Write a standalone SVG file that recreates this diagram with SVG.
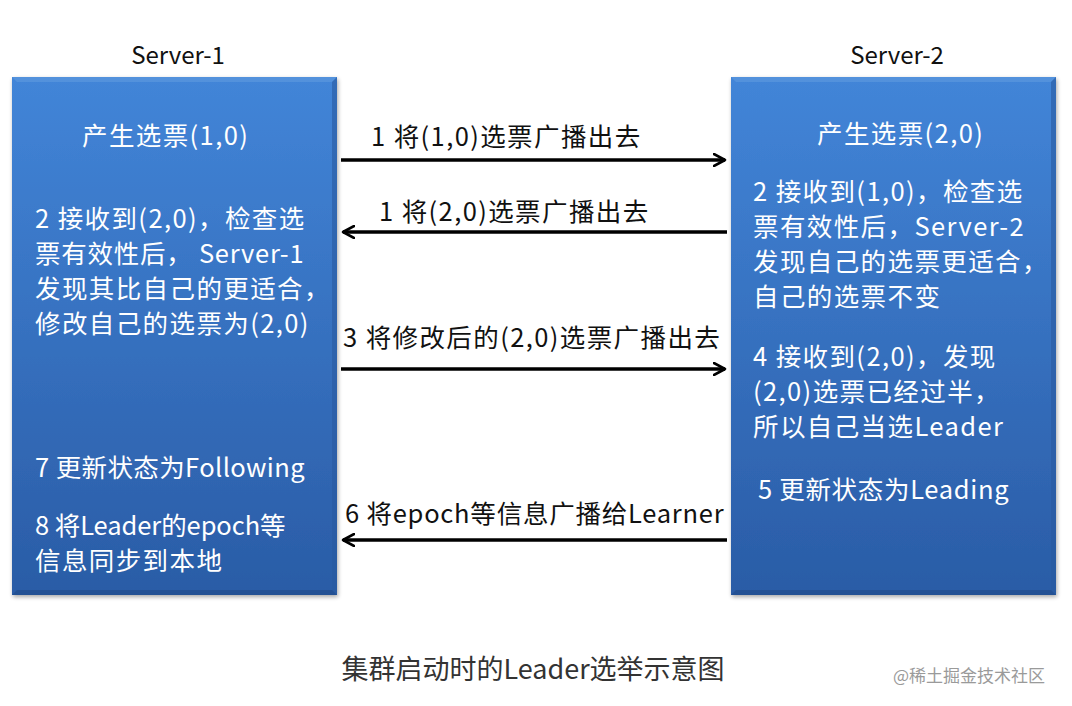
<svg xmlns="http://www.w3.org/2000/svg" width="1072" height="706" viewBox="0 0 1072 706">
<defs>
<linearGradient id="gBox" x1="0" y1="0" x2="0" y2="1">
<stop offset="0" stop-color="#4285d8"/>
<stop offset="1" stop-color="#2a5ca6"/>
</linearGradient>
<marker id="ah" viewBox="0 0 14 14" refX="12" refY="7" markerWidth="14" markerHeight="14" markerUnits="userSpaceOnUse" orient="auto">
<path d="M1,1 L12,7 L1,13" fill="none" stroke="#000" stroke-width="2.6" stroke-linecap="round" stroke-linejoin="round"/>
</marker>
<filter id="sh" x="-5%" y="-5%" width="110%" height="110%">
<feGaussianBlur in="SourceAlpha" stdDeviation="2"/>
<feOffset dx="1" dy="2"/>
<feComponentTransfer><feFuncA type="linear" slope="0.35"/></feComponentTransfer>
<feMerge><feMergeNode/><feMergeNode in="SourceGraphic"/></feMerge>
</filter>
</defs>
<style>
.t{font-family:"Noto Sans CJK SC","Noto Sans",sans-serif;font-size:25.5px;letter-spacing:1.4px;fill:#ffffff}
.a{font-family:"Noto Sans CJK SC","Noto Sans",sans-serif;font-size:25.5px;letter-spacing:1.4px;fill:#111111}
.h{font-family:"Noto Sans CJK SC","Noto Sans",sans-serif;font-size:24px;fill:#111111}
.c{font-family:"Noto Sans CJK SC","Noto Sans",sans-serif;font-size:27px;fill:#333333}
.w{font-family:"Noto Sans CJK SC","Noto Sans",sans-serif;font-size:17px;fill:#9a9a9a}
.ln{stroke:#000;stroke-width:3.5;fill:none}
</style>
<rect width="1072" height="706" fill="#ffffff"/>

<g id="server1">
<text class="h" x="178" y="64" text-anchor="middle">Server-1</text>
<rect x="12" y="77" width="325" height="518" fill="url(#gBox)" filter="url(#sh)"/>
<path d="M12,77 L337,77 L332,82 L17,82 Z" fill="#5b97de" opacity="0.7"/>
<path d="M337,77 L337,595 L332,590 L332,82 Z" fill="#2a5aa0" opacity="0.6"/>
<path d="M12,595 L337,595 L332,590 L17,590 Z" fill="#1f4a88" opacity="0.6"/>
<text class="t" x="82" y="145">产生选票(1,0)</text>
<text class="t" x="35" y="228">2 接收到(2,0)，检查选</text>
<text class="t" x="35" y="263" textLength="270" lengthAdjust="spacing">票有效性后， Server-1</text>
<text class="t" x="35" y="298">发现其比自己的更适合，</text>
<text class="t" x="35" y="333">修改自己的选票为(2,0)</text>
<text class="t" x="35" y="477" textLength="271" lengthAdjust="spacing">7 更新状态为Following</text>
<text class="t" x="35" y="535" textLength="252" lengthAdjust="spacing">8 将Leader的epoch等</text>
<text class="t" x="35" y="570">信息同步到本地</text>
</g>

<g id="server2">
<text class="h" x="897" y="64" text-anchor="middle">Server-2</text>
<rect x="731" y="77" width="325" height="518" fill="url(#gBox)" filter="url(#sh)"/>
<path d="M731,77 L1056,77 L1051,82 L736,82 Z" fill="#5b97de" opacity="0.7"/>
<path d="M1056,77 L1056,595 L1051,590 L1051,82 Z" fill="#2a5aa0" opacity="0.6"/>
<path d="M731,595 L1056,595 L1051,590 L736,590 Z" fill="#1f4a88" opacity="0.6"/>
<text class="t" x="817" y="143">产生选票(2,0)</text>
<text class="t" x="753" y="201">2 接收到(1,0)，检查选</text>
<text class="t" x="753" y="236">票有效性后，Server-2</text>
<text class="t" x="753" y="271">发现自己的选票更适合，</text>
<text class="t" x="753" y="306">自己的选票不变</text>
<text class="t" x="753" y="366">4 接收到(2,0)，发现</text>
<text class="t" x="753" y="401">(2,0)选票已经过半，</text>
<text class="t" x="753" y="436">所以自己当选Leader</text>
<text class="t" x="758" y="499" textLength="252" lengthAdjust="spacing">5 更新状态为Leading</text>
</g>

<g id="connectors">
<line class="ln" x1="341" y1="160" x2="725" y2="160" marker-end="url(#ah)"/>
<line class="ln" x1="727" y1="232" x2="343" y2="232" marker-end="url(#ah)"/>
<line class="ln" x1="341" y1="369" x2="725" y2="369" marker-end="url(#ah)"/>
<line class="ln" x1="727" y1="540" x2="343" y2="540" marker-end="url(#ah)"/>
<text class="a" x="371" y="146">1 将(1,0)选票广播出去</text>
<text class="a" x="379" y="221">1 将(2,0)选票广播出去</text>
<text class="a" x="343" y="347">3 将修改后的(2,0)选票广播出去</text>
<text class="a" x="345" y="523" textLength="380" lengthAdjust="spacing">6 将epoch等信息广播给Learner</text>
</g>

<text class="c" x="533" y="679" text-anchor="middle">集群启动时的Leader选举示意图</text>
<text class="w" x="893" y="682">@稀土掘金技术社区</text>
</svg>
